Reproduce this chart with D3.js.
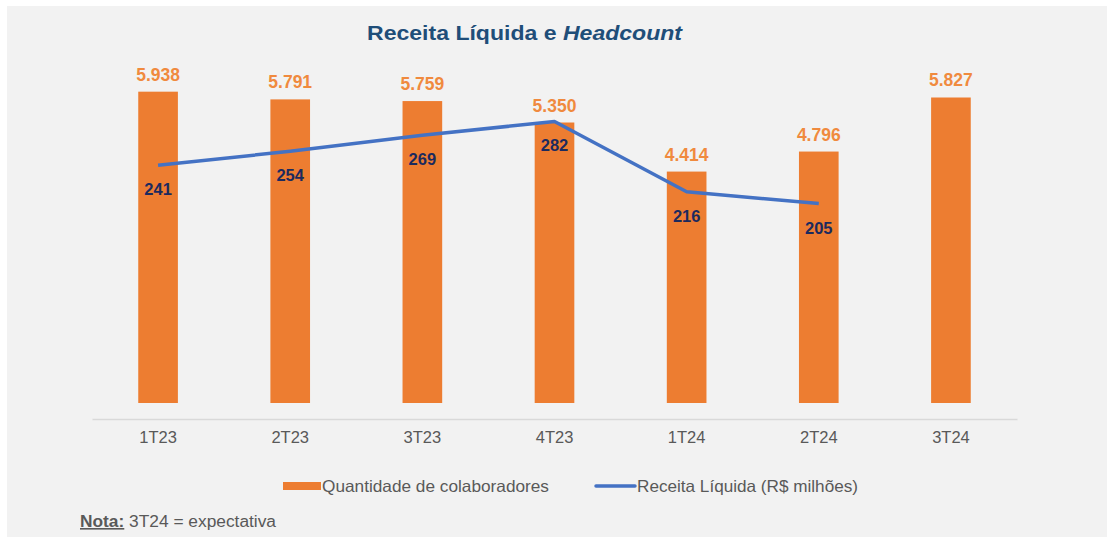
<!DOCTYPE html>
<html>
<head>
<meta charset="utf-8">
<script src="https://cdn.jsdelivr.net/npm/d3@7"></script>
<style>
  body { margin: 0; background: #fff; }
  svg { display: block; font-family: "Liberation Sans", Arial, sans-serif; }
</style>
</head>
<body>
<svg id="chart" width="1107" height="537"></svg>
<script>
// data
const quarters = ["1T23", "2T23", "3T23", "4T23", "1T24", "2T24", "3T24"];
const headcount = [5938, 5791, 5759, 5350, 4414, 4796, 5827];
const revenue = [241, 254, 269, 282, 216, 205]; // last quarter has no value
const legendLabels = ["Quantidade de colaboradores", "Receita Líquida (R$ milhões)"];

const W = 1107, H = 537;
const orange = "#ED7D31", blue = "#4472C4";
const svg = d3.select("#chart");

// grey panel
svg.append("rect")
    .attr("x", 7).attr("y", 6)
    .attr("width", W - 7).attr("height", H - 6)
    .attr("fill", "#F2F2F2");

// title
const title = svg.append("text")
    .attr("x", 367).attr("y", 40)
    .attr("textLength", 315)
    .attr("lengthAdjust", "spacingAndGlyphs")
    .attr("fill", "#1F4E79")
    .style("font-size", "21px")
    .style("font-weight", "bold");
title.append("tspan").text("Receita Líquida e ");
title.append("tspan").style("font-style", "italic").text("Headcount");

// scales
const x = d3.scaleBand()
    .domain(quarters)
    .range([92, 1017])
    .paddingInner(0.7)
    .paddingOuter(0.35);

const y = d3.scaleLinear().domain([0, 7000]).range([403, 36]);
const y2 = d3.scaleLinear().domain([0, 350]).range([422, 49]);

// category axis
const xAxis = svg.append("g")
    .attr("transform", "translate(0,419)")
    .call(d3.axisBottom(x).tickSize(0).tickPadding(12));
xAxis.select(".domain").attr("stroke", "#D9D9D9").attr("stroke-width", 1.5);
xAxis.selectAll("text")
    .attr("fill", "#595959")
    .style("font-size", "16.5px")
    .style("font-family", "Liberation Sans, Arial, sans-serif");

// bars
svg.append("g").selectAll("rect")
    .data(headcount)
    .join("rect")
    .attr("x", (d, i) => x(quarters[i]))
    .attr("y", d => y(d))
    .attr("width", x.bandwidth())
    .attr("height", d => y(0) - y(d))
    .attr("fill", orange);

// bar labels
const fmt = d3.formatLocale({ decimal: ",", thousands: ".", grouping: [3], currency: ["R$", ""] }).format(",");
svg.append("g").selectAll("text")
    .data(headcount)
    .join("text")
    .attr("x", (d, i) => x(quarters[i]) + x.bandwidth() / 2)
    .attr("y", d => y(d) - 11)
    .attr("text-anchor", "middle")
    .attr("fill", "#F08A3E")
    .style("font-size", "17.5px")
    .style("font-weight", "bold")
    .text(d => fmt(d));

// revenue line
const line = d3.line()
    .x((d, i) => x(quarters[i]) + x.bandwidth() / 2)
    .y(d => y2(d));

svg.append("path")
    .datum(revenue)
    .attr("d", line)
    .attr("fill", "none")
    .attr("stroke", blue)
    .attr("stroke-width", 3.5)
    .attr("stroke-linejoin", "round");

svg.append("g").selectAll("text")
    .data(revenue)
    .join("text")
    .attr("x", (d, i) => x(quarters[i]) + x.bandwidth() / 2)
    .attr("y", d => y2(d) + 30)
    .attr("text-anchor", "middle")
    .attr("fill", "#1B2A5E")
    .style("font-size", "16.5px")
    .style("font-weight", "bold")
    .text(d => d);

// legend
const legend = svg.append("g").attr("transform", "translate(0,486)");
legend.append("rect")
    .attr("x", 283).attr("y", -4)
    .attr("width", 38).attr("height", 8)
    .attr("fill", orange);
legend.append("text")
    .attr("x", 322).attr("y", 6)
    .attr("textLength", 227)
    .attr("lengthAdjust", "spacingAndGlyphs")
    .attr("fill", "#595959")
    .style("font-size", "16.5px")
    .text(legendLabels[0]);
legend.append("line")
    .attr("x1", 596).attr("x2", 635)
    .attr("y1", 0).attr("y2", 0)
    .attr("stroke", blue)
    .attr("stroke-width", 3.5)
    .attr("stroke-linecap", "round");
legend.append("text")
    .attr("x", 637).attr("y", 6)
    .attr("textLength", 221)
    .attr("lengthAdjust", "spacingAndGlyphs")
    .attr("fill", "#595959")
    .style("font-size", "16.5px")
    .text(legendLabels[1]);

// note
const note = svg.append("text")
    .attr("x", 80).attr("y", 527)
    .attr("textLength", 196)
    .attr("lengthAdjust", "spacingAndGlyphs")
    .attr("fill", "#595959")
    .style("font-size", "16px");
note.append("tspan")
    .style("font-weight", "bold")
    .style("text-decoration", "underline")
    .text("Nota:");
note.append("tspan").text(" 3T24 = expectativa");
</script>
</body>
</html>
